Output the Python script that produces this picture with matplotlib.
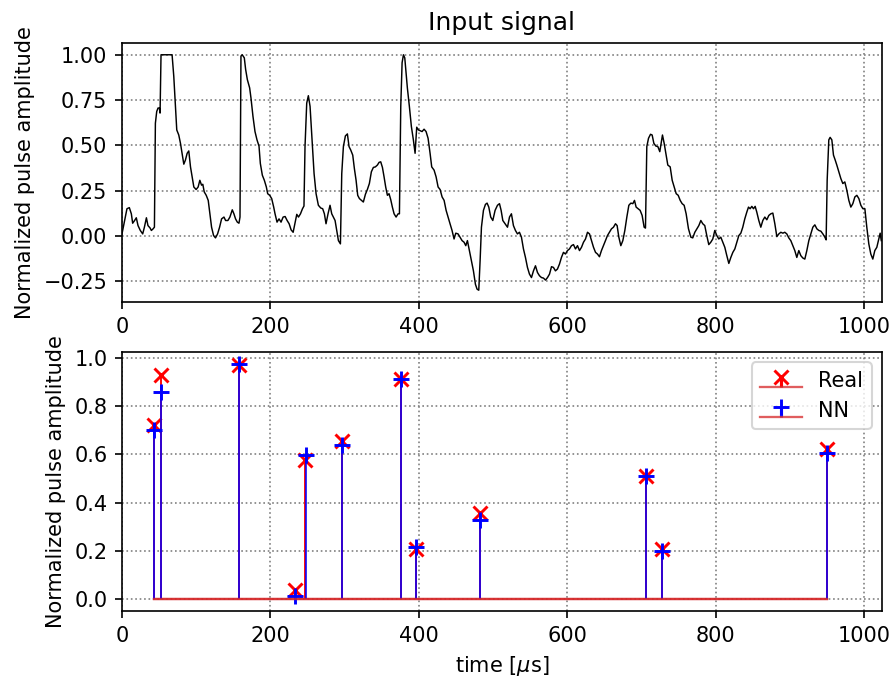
import numpy as np
import matplotlib
matplotlib.use("Agg")
import matplotlib.pyplot as plt

# ---- Input signal ----
sig_t = [0, 3.6, 6.7, 9.9, 12.6, 14.4, 17, 19.3, 21.6, 24.7, 27.9, 30.2, 32.9, 35, 37.8, 39.6, 41.9, 43.7,
         45, 46.8, 48.6, 50.4, 51.3, 52.6, 67.5, 69.8, 72, 73.8, 76.5, 78.8, 81, 83.3, 85.5, 87.8, 90, 92.3,
         94.5, 96.8, 99.9, 102.6, 104.9, 107.2, 108.9, 110.8, 113.5, 116.2, 118.4, 120.7, 123.4, 126, 128.8,
         131.5, 134.2, 137.4, 139.6, 142.7, 145.4, 148.6, 150.8, 153, 155.4, 157.6, 159, 160.3, 162, 164.8,
         166.6, 168.9, 172, 173.8, 176.5, 179.2, 181.9, 184.6, 186.4, 189.1, 191.8, 194.5, 196.3, 199, 201.7,
         204.4, 206.2, 208.9, 211.6, 214.3, 217.1, 219.8, 222.5, 225.2, 227.9, 230.6, 233.3, 235.5, 237.8,
         240.5, 243.2, 245.2, 246.6, 248.9, 251.1, 253.4, 256.1, 258.8, 261.5, 264.6, 267.8, 270.4, 272.7,
         274.9, 277.6, 280.3, 282.6, 284.8, 287.1, 289.3, 291.6, 294.3, 296.1, 298.3, 301, 303.7, 305.9,
         308.2, 310.9, 313.1, 315.4, 317.6, 319.9, 322.6, 325.2, 328, 330.6, 333.3, 336, 338.7, 341.4, 344.1,
         346.4, 348.6, 350.9, 353.1, 355.3, 357.6, 359.8, 362.1, 364.3, 366.6, 369.3, 372, 373.8, 375.6,
         377.4, 379.2, 381, 382.7, 384.5, 387.2, 389.9, 392.6, 394.9, 397.1, 399.4, 401.6, 404.3, 407, 409.7,
         412.4, 415.1, 417.3, 420.5, 423.2, 425.9, 428.6, 431.3, 434, 436.7, 439.3, 442, 444.7, 447.4, 449.7,
         452.8, 455.5, 458.2, 460.9, 463.2, 465.4, 468.1, 470.8, 473.5, 476.2, 478.4, 480.7, 482.5, 484.3,
         487, 489.7, 491.9, 494.2, 496.8, 499.6, 502.7, 505.9, 508.6, 510.8, 513.1, 516.2, 519.4, 522.1,
         524.7, 527.4, 530.1, 532.8, 535.5, 538.2, 540.9, 543.6, 546.3, 549, 551.7, 554.4, 557.1, 559.8,
         562.5, 565.2, 567.9, 570.6, 573.3, 576, 578.7, 581.3, 584, 586.7, 589.4, 592.1, 594.8, 597.5, 600.2,
         602.9, 605.6, 608.3, 611, 613.7, 616.4, 619.1, 621.8, 624.5, 627.2, 629.9, 632.6, 635.3, 638, 640.6,
         643.3, 646, 648.7, 651.4, 654.1, 656.8, 659.5, 662.2, 664.9, 667.1, 669.4, 672.1, 674.8, 677.5,
         680.2, 682.9, 685.6, 688.3, 690.5, 692.7, 695.4, 698.1, 700.8, 703.5, 705.3, 707.1, 709.4, 712.1,
         714.3, 716.6, 719.3, 722, 724.6, 726.4, 728.2, 730.5, 732.7, 735.4, 738.6, 741.3, 744, 746.7, 749.4,
         752.1, 754.7, 757.4, 760.1, 763.2, 766.4, 769, 771.8, 774.5, 777.2, 779.9, 782.5, 785.2, 787.9,
         790.6, 793.3, 796, 798.7, 801.4, 804.1, 806.8, 809.5, 812.2, 814.9, 817.6, 820.3, 823, 825.7, 828.4,
         831.1, 833.8, 836.4, 839.1, 841.8, 844.1, 846.3, 848.6, 850.8, 853.1, 855.3, 858, 860.7, 863.4,
         866.1, 868.8, 871.5, 874.2, 876.9, 879.6, 882.3, 885, 887.7, 890.4, 893, 895.7, 898.4, 901.1, 903.8,
         906.5, 909.2, 911.9, 914.6, 917.3, 920, 922.7, 925.4, 928.1, 930.8, 933.5, 936.2, 938.9, 941.6,
         944.3, 947, 948.7, 950.1, 952.3, 954.1, 956.4, 958.6, 960.9, 963.1, 965.8, 968.5, 971.2, 973.9,
         976.6, 979.3, 982, 984.7, 987.4, 990.1, 992.8, 995.5, 998.2, 1000.9, 1003.5, 1006.2, 1008.9, 1011.6,
         1014.3, 1017, 1019.7, 1021.5, 1023]
sig_v = [0.011, 0.085, 0.15, 0.156, 0.122, 0.07, 0.085, 0.1, 0.057, 0.03, 0.011, 0.048, 0.1, 0.057, 0.044,
         0.03, 0.039, 0.048,
         0.622, 0.687, 0.706, 0.706, 0.678, 1.0, 1.0, 0.88, 0.715, 0.585, 0.557, 0.511, 0.456, 0.396, 0.419,
         0.456, 0.469, 0.381, 0.326, 0.27, 0.256, 0.27, 0.307, 0.28, 0.285, 0.243, 0.224, 0.196, 0.122, 0.048,
         0.002, -0.011, 0.011, 0.048, 0.094, 0.104, 0.085, 0.085, 0.104, 0.144, 0.122, 0.094, 0.076, 0.07,
         0.104, 0.993, 1.0, 0.983, 0.919, 0.863, 0.817, 0.761, 0.659, 0.576, 0.53, 0.496, 0.4, 0.335, 0.307,
         0.27, 0.233, 0.224, 0.206, 0.159, 0.122, 0.076, 0.094, 0.076, 0.104, 0.107, 0.085, 0.067, 0.033,
         0.02, 0.076, 0.119, 0.104, 0.122, 0.15, 0.165, 0.493, 0.733, 0.774, 0.715, 0.53, 0.344, 0.233,
         0.169, 0.154, 0.15, 0.122, 0.067, 0.122, 0.169, 0.122, 0.104, 0.085, 0.03, -0.026, -0.044, 0.344,
         0.493, 0.552, 0.563, 0.493, 0.474, 0.446, 0.372, 0.307, 0.224, 0.206, 0.196, 0.187, 0.23, 0.256,
         0.289, 0.354, 0.378, 0.381, 0.391, 0.406, 0.409, 0.378, 0.326, 0.27, 0.224, 0.233, 0.2, 0.159,
         0.122, 0.104, 0.122, 0.122, 0.715, 0.956, 1.0, 0.983, 0.9, 0.817, 0.715, 0.604, 0.53, 0.456, 0.6,
         0.585, 0.581, 0.576, 0.589, 0.576, 0.539, 0.456, 0.381, 0.363, 0.326, 0.27, 0.256, 0.215, 0.196,
         0.141, 0.104, 0.067, 0.03, -0.017, 0.015, 0.011, -0.007, -0.026, -0.035, -0.054, -0.026, -0.081,
         -0.137, -0.193, -0.267, -0.294, -0.3, -0.137, 0.048, 0.141, 0.174, 0.181, 0.159, 0.104, 0.085, 0.141,
         0.169, 0.178, 0.141, 0.085, 0.067, 0.048, 0.104, 0.122, 0.057, 0.03, 0.011, 0.02, -0.007, -0.072,
         -0.119, -0.174, -0.211, -0.23, -0.193, -0.165, -0.202, -0.22, -0.23, -0.233, -0.244, -0.23, -0.211,
         -0.17, -0.174, -0.193, -0.183, -0.156, -0.119, -0.091, -0.1, -0.081, -0.072, -0.054, -0.048, -0.072,
         -0.054, -0.081, -0.063, -0.035, -0.017, 0.02, 0.011, -0.026, -0.063, -0.091, -0.1, -0.115, -0.081,
         -0.054, -0.026, 0.002, 0.02, 0.039, 0.048, 0.067, 0.057, -0.007, -0.054, -0.026, 0.03, 0.104, 0.169,
         0.181, 0.178, 0.196, 0.159, 0.15, 0.141, 0.113, 0.048, 0.043, 0.493, 0.539, 0.561, 0.557, 0.511,
         0.496, 0.493, 0.465, 0.511, 0.557, 0.511, 0.456, 0.391, 0.381, 0.307, 0.27, 0.233, 0.224, 0.196,
         0.178, 0.169, 0.122, 0.04, -0.007, -0.011, 0.02, 0.039, 0.057, 0.085, 0.067, 0.057, 0.002,
         -0.048, -0.035, -0.017, 0.03, 0.002, -0.017, -0.007, -0.035, -0.063, -0.109, -0.152, -0.119, -0.091,
         -0.072, -0.035, 0.002, 0.015, 0.048, 0.094, 0.131, 0.159, 0.15, 0.163, 0.15, 0.163, 0.131, 0.085,
         0.048, 0.085, 0.104, 0.089, 0.113, 0.122, 0.126, 0.067, -0.004, 0.011, 0.02, 0.015, 0.02, 0.011,
         -0.011, -0.026, -0.054, -0.081, -0.119, -0.081, -0.109, -0.122, -0.128, -0.081, -0.026, 0.011, 0.048,
         0.061, 0.039, 0.03, 0.026, 0.011, -0.007, -0.022, 0.307, 0.53, 0.544, 0.53, 0.446, 0.419, 0.391,
         0.354, 0.317, 0.289, 0.298, 0.252, 0.196, 0.159, 0.178, 0.215, 0.224, 0.206, 0.169, 0.15, 0.15,
         0.048, -0.044, -0.1, -0.128, -0.081, -0.063, -0.017, 0.015, -0.026]

# ---- Pulse detections ----
real_t = [43, 52, 158, 233, 247, 296, 375.5, 396, 483, 706, 727, 950.5]
real_a = [0.72, 0.93, 0.97, 0.04, 0.575, 0.655, 0.912, 0.21, 0.355, 0.51, 0.21, 0.62]
nn_t = [43.5, 52, 158, 233, 247.5, 296, 376, 396.5, 483, 706.5, 727, 950.5]
nn_a = [0.70, 0.857, 0.975, 0.012, 0.598, 0.638, 0.913, 0.216, 0.33, 0.51, 0.201, 0.604]

DPI = 150
fig = plt.figure(figsize=(893 / DPI, 677 / DPI), dpi=DPI)
ax1 = fig.add_axes([0.1366, 0.5539, 0.8511, 0.3826])
ax2 = fig.add_axes([0.1366, 0.0975, 0.8511, 0.3826])

ax1.plot(sig_t, sig_v, color='black', lw=0.7)
ax1.set_xlim(0, 1024)
ax1.set_title('Input signal')
ax1.set_ylabel('Normalized pulse amplitude')
ax1.grid(True, linestyle=':', color='gray')

ml, sl, bl = ax2.stem(real_t, real_a, linefmt='r-', markerfmt='rx', label='Real')
plt.setp(ml, markersize=7, mew=1.4)
plt.setp(sl, lw=0.9)
ml2, sl2, bl2 = ax2.stem(nn_t, nn_a, linefmt='b-', markerfmt='b+', label='NN')
plt.setp(ml2, markersize=8, mew=1.4)
plt.setp(sl2, lw=0.9, alpha=0.85)
plt.setp([bl, bl2], lw=1.1, alpha=0.75)
ax2.set_xlim(0, 1024)
ax2.set_xlabel(r'time [$\mu$s]')
ax2.set_ylabel('Normalized pulse amplitude')
ax2.grid(True, linestyle=':', color='gray')
ax2.legend(loc='upper right')

fig.savefig('out.png', dpi=DPI)
